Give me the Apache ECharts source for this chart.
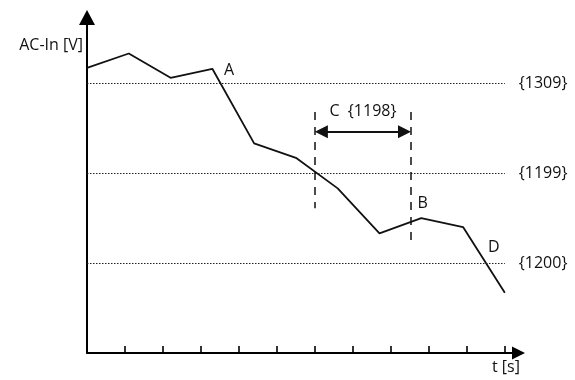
<!DOCTYPE html>
<html>
<head>
<meta charset="utf-8">
<script src="https://cdn.jsdelivr.net/npm/echarts@6/dist/echarts.min.js"></script>
<style>html,body{margin:0;padding:0;background:#fff}#c{width:575px;height:380px}</style>
</head>
<body>
<div id="c"></div>
<script>
// time positions (tick units) and AC-In levels (threshold units)
var tValues = [0, 1.1, 2.2, 3.3, 4.4, 5.5, 6.6, 7.7, 8.8, 9.9, 11];
var acIn = [3.17, 3.33, 3.06, 3.16, 2.33, 2.17, 1.83, 1.33, 1.5, 1.4, 0.67];
var xTicks = [1, 2, 3, 4, 5, 6, 7, 8, 9, 10, 11];
var thresholdLevels = [3, 2, 1];
var thresholdLabels = ['{1309}', '{1199}', '{1200}'];
var windowStart = 6, windowEnd = 8.53;
var windowTop = 2.68, windowLeftBottom = 1.61, windowRightBottom = 1.18, arrowLevel = 2.46;
var windowLabel = 'C  {1198}';
var pointNames = ['A', 'B', 'D'];
var pointT = [3.74, 8.84, 10.71];
var pointV = [3.14, 1.66, 1.17];
var yName = 'AC-In [V]', xName = 't [s]';

var FONT = 'Open Sans';
var FS = 16;
var TXT = '#111';
var PX_PER_T = 38;      // pixels per x unit (for arrowhead inset)
var ARROW_LEN = 13;
var chart = echarts.init(document.getElementById('c'), null, {renderer: 'canvas'});

var lineData = tValues.map(function (t, i) { return [t, acIn[i]]; });
var markLines = [];
thresholdLevels.forEach(function (v, i) {
  markLines.push([
    {coord: [0, v], lineStyle: {type: [1.5, 1.5], color: '#222', width: 1.2},
     label: {show: true, position: 'end', distance: 14, formatter: thresholdLabels[i], color: TXT, fontSize: FS, fontFamily: FONT}},
    {coord: [11, v]}
  ]);
});
var dash = {type: [8, 7], color: '#111', width: 1.5};
markLines.push([{coord: [windowStart, windowTop], lineStyle: dash, label: {show: false}}, {coord: [windowStart, windowLeftBottom]}]);
markLines.push([{coord: [windowEnd, windowTop], lineStyle: dash, label: {show: false}}, {coord: [windowEnd, windowRightBottom]}]);
var inset = ARROW_LEN / 2 / PX_PER_T;
markLines.push([
  {coord: [windowStart + inset, arrowLevel], symbol: 'triangle', symbolSize: [13, ARROW_LEN],
   lineStyle: {type: 'solid', color: '#111', width: 2.2},
   label: {show: true, position: 'middle', distance: 12, formatter: windowLabel, color: TXT, fontSize: FS, fontFamily: FONT}},
  {coord: [windowEnd - inset, arrowLevel], symbol: 'triangle', symbolSize: [13, ARROW_LEN]}
]);

var markPoints = pointNames.map(function (n, i) {
  return {coord: [pointT[i], pointV[i]], name: n};
});

chart.setOption({
  animation: false,
  grid: {left: 87, right: 56.5, top: 17.5, bottom: 27, containLabel: false, outerBoundsMode: 'none'},
  xAxis: {
    type: 'value', min: 0, max: 11.36, interval: 1,
    axisLine: {show: true, onZero: false, symbol: ['none', 'triangle'], symbolSize: [13, 13],
      lineStyle: {color: '#000', width: 2}},
    axisTick: {show: true, inside: true, length: 7, customValues: xTicks, lineStyle: {color: '#000', width: 1.6}},
    axisLabel: {show: false},
    splitLine: {show: false}
  },
  yAxis: {
    type: 'value', min: 0, max: 3.73, interval: 1,
    axisLine: {show: true, onZero: false, symbol: ['none', 'triangle'], symbolSize: [16, 15],
      lineStyle: {color: '#000', width: 2}},
    axisTick: {show: false},
    axisLabel: {show: false},
    splitLine: {show: false}
  },
  graphic: [
    {type: 'text', right: 575 - 83, top: 37, style: {text: yName, font: FS + 'px "' + FONT + '"', fill: TXT}},
    {type: 'text', left: 492, top: 359, style: {text: xName, font: FS + 'px "' + FONT + '"', fill: TXT}}
  ],
  series: [{
    type: 'line',
    data: lineData,
    symbol: 'none',
    lineStyle: {color: '#111', width: 1.8},
    markLine: {silent: true, symbol: ['none', 'none'], data: markLines, animation: false},
    markPoint: {
      symbol: 'circle', symbolSize: 0, silent: true,
      label: {show: true, position: 'inside', formatter: '{b}', color: TXT, fontSize: FS, fontFamily: FONT},
      data: markPoints
    }
  }]
});
</script>
</body>
</html>
